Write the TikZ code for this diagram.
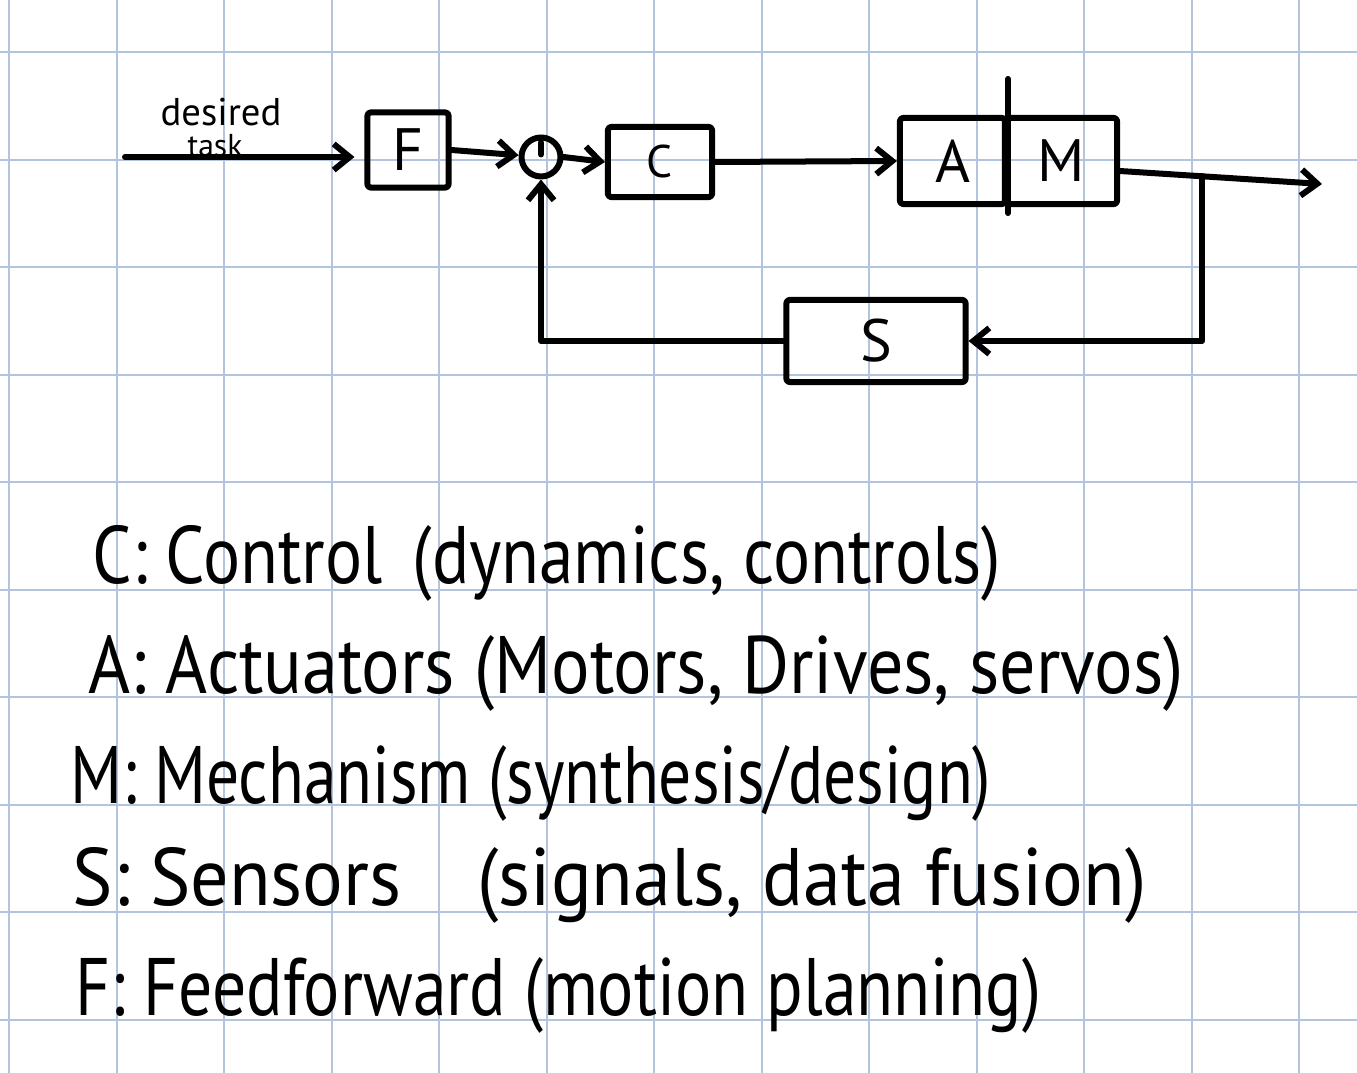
\documentclass[tikz,border=0pt]{standalone}
\usepackage{fontspec}
\setmainfont{PT Sans}
\usepackage{tikz}
\usetikzlibrary{arrows.meta}
\definecolor{gridblue}{RGB}{178,196,222}
\def\fitline#1#2{\resizebox{#1}{0.58cm}{#2}}

\begin{document}
\begin{tikzpicture}[x=0.01cm, y=-0.01cm,
    pen/.style={line width=0.06cm, line cap=round, line join=round},
    blk/.style={pen, draw, rounded corners=0.03cm, inner sep=0pt, font=\fontsize{17}{20}\selectfont},
    flow/.style={pen, -{Straight Barb[length=0.16cm, width=0.26cm]}},
    note/.style={anchor=base west, inner sep=0pt}]
    %%%%% PAPER %%%%%
    \useasboundingbox (0,0) rectangle (1357,1073);
    \fill[white] (0,0) rectangle (1357,1073);
    \foreach \gx in {0,...,12} \draw[gridblue, line width=0.02cm] ({9+107.5*\gx},0) -- ({9+107.5*\gx},1073);
    \foreach \gy in {0,...,9} \draw[gridblue, line width=0.02cm] (0,{52.3+107.5*\gy}) -- (1357,{52.3+107.5*\gy});

    %%%%% BLOCKS %%%%%
    \node[blk, minimum width=0.81cm, minimum height=0.75cm] (F) at (408,150) {F};
    \node[pen, draw, circle, minimum size=0.39cm, inner sep=0pt] (sum) at (541,157) {};
    \node[blk, minimum width=1.04cm, minimum height=0.7cm, font=\fontsize{13}{15}\selectfont] (C) at (660,162) {C};
    \node[blk, minimum width=1.05cm, minimum height=0.86cm] (A) at (952.5,161) {A};
    \node[blk, minimum width=1.12cm, minimum height=0.86cm] (M) at (1061,161) {M};
    \node[blk, minimum width=1.79cm, minimum height=0.82cm] (S) at (876,341) {S};

    %%%%% SIGNALS %%%%%
    \coordinate (input) at (125,157);
    \coordinate (output) at (1322,184);
    \coordinate (branch) at (1202,176);
    \node[font=\fontsize{11}{12}\selectfont, inner sep=0pt] (desired) at (221,112) {desired};
    \node[font=\fontsize{9}{10}\selectfont, inner sep=0pt] (task) at (215,146) {task};
    \draw[flow, shorten >=0.1cm] (input) -- (input -| F.west);
    \draw[flow] (F.east) -- (sum);
    \draw[pen] ([yshift=-0.08cm]sum.north) -- ([yshift=-0.2cm]sum.north);
    \draw[flow] (sum.east) -- (C.west);
    \draw[flow] (C.east) -- (A.west);
    \draw[pen] ([yshift=0.36cm]A.north east) -- ([yshift=-0.06cm]A.south east);
    \draw[flow] ([yshift=-0.1cm]M.east) -- (output);
    \draw[flow] (branch) -- (branch |- S.east) -- (S.east);
    \draw[flow] (S.west) -- (S.west -| sum.south) -- (sum.south);

    %%%%% LEGEND %%%%%
    \node[note] (cnote) at (92,583) {\fitline{9.08cm}{C: Control\, (dynamics, controls)}};
    \node[note] (anote) at (88,693) {\fitline{10.94cm}{A: Actuators (Motors, Drives, servos)}};
    \node[note] (mnote) at (70,803) {\fitline{9.2cm}{M: Mechanism (synthesis/design)}};
    \node[note] (snote) at (72,905) {\fitline{10.73cm}{S: Sensors\quad (signals, data fusion)}};
    \node[note] (fnote) at (75,1015) {\fitline{9.65cm}{F: Feedforward (motion planning)}};
\end{tikzpicture}
\end{document}
